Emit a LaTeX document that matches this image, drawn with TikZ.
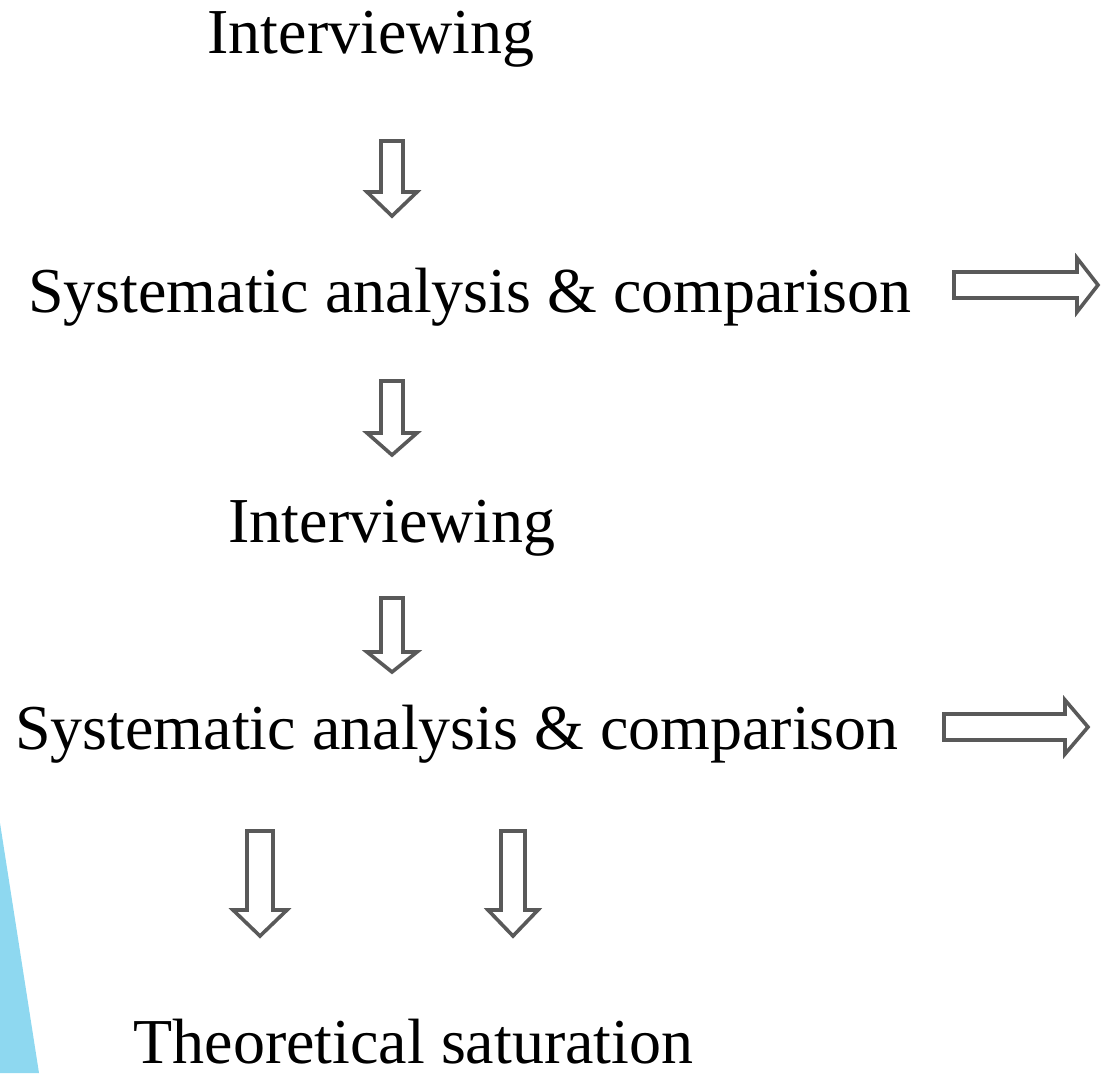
\documentclass[tikz,border=0pt]{standalone}
\usepackage{fontspec}
\setmainfont{Liberation Serif}

\definecolor{skyfill}{RGB}{142,216,240}
\definecolor{arrowgray}{RGB}{89,89,89}

% hollow block arrows: centre, start, head start, tip, shaft half width, head half width
\newcommand{\downblock}[6]{%
  \draw[blockarrow] (#1-#5,#2) -- (#1+#5,#2) -- (#1+#5,#3) -- (#1+#6,#3)
    -- (#1,#4) -- (#1-#6,#3) -- (#1-#5,#3) -- cycle;}
\newcommand{\rightblock}[6]{%
  \draw[blockarrow] (#2,#1-#5) -- (#2,#1+#5) -- (#3,#1+#5) -- (#3,#1+#6)
    -- (#4,#1) -- (#3,#1-#6) -- (#3,#1-#5) -- cycle;}

\begin{document}
\begin{tikzpicture}[x=1pt, y=-1pt,
  step label/.style={anchor=base, inner sep=0pt, font=\fontsize{64}{70}\selectfont},
  blockarrow/.style={draw=arrowgray, line width=3.6pt, fill=white, line join=miter}]
\useasboundingbox (0,0) rectangle (1102,1073);

% Side band
\fill[skyfill] (0,823) -- (39,1073) -- (0,1073) -- cycle;

% Steps
\node[step label] (interview1) at (371,53) {Interviewing};
\node[step label] (analysis1) at (470,312) {Systematic analysis \& comparison};
\node[step label] (interview2) at (392,542) {Interviewing};
\node[step label] (analysis2) at (457,749) {Systematic analysis \& comparison};
\node[step label] (saturation) at (413.5,1063) {Theoretical saturation};

% Arrows down
\downblock{392}{141}{192}{216}{11}{25}
\downblock{392}{381}{433}{455}{11}{25}
\downblock{392}{598}{652}{672}{11}{25}
\downblock{260}{831}{910}{936}{13}{27}
\downblock{513}{831}{910}{936}{12}{25}

% Arrows right
\rightblock{285}{954}{1077}{1098}{13}{27}
\rightblock{727}{944}{1065}{1088}{13}{27}
\end{tikzpicture}
\end{document}
